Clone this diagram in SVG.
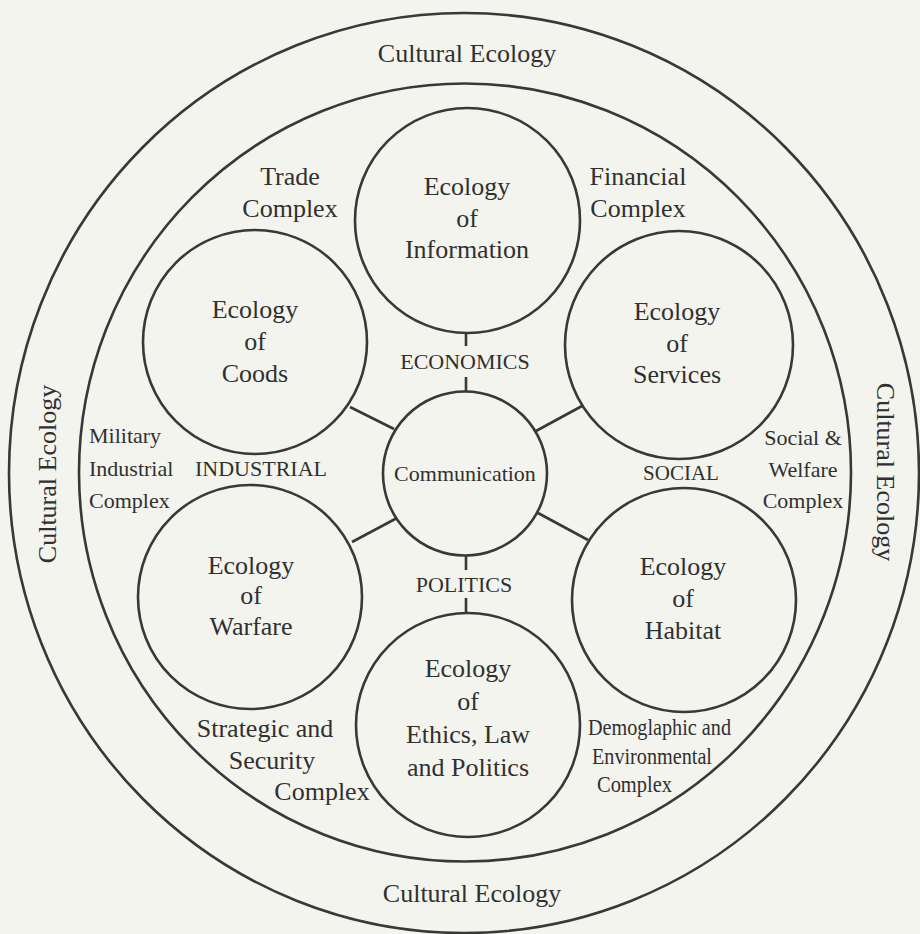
<svg xmlns="http://www.w3.org/2000/svg" width="920" height="934" viewBox="0 0 920 934">
<style>
.ring{fill:none;stroke:#383838;stroke-width:2.6}
.conn{fill:none;stroke:#383838;stroke-width:2.6}
text{font-family:"Liberation Serif","Times New Roman",serif;fill:#303030}
.big{font-size:26px;text-anchor:middle}
.mid{font-size:22px}
.c{text-anchor:middle}
.sm{font-size:20px}
</style>
<rect x="0" y="0" width="920" height="934" fill="#f4f4ef"/>
<g id="outer-ring">
<ellipse class="ring" cx="464" cy="473" rx="455" ry="460"/>
<text class="big" x="467" y="62">Cultural Ecology</text>
<text class="big" x="472" y="902">Cultural Ecology</text>
<text class="big" transform="translate(56,474) rotate(-90)">Cultural Ecology</text>
<text class="big" transform="translate(877,472) rotate(90)">Cultural Ecology</text>
</g>
<g id="second-ring">
<ellipse class="ring" cx="465" cy="472.5" rx="386" ry="389"/>
<text class="big" x="290" y="185">Trade</text>
<text class="big" x="290" y="217">Complex</text>
<text class="big" x="638" y="185">Financial</text>
<text class="big" x="638" y="217">Complex</text>
<text class="mid" x="89" y="443">Military</text>
<text class="mid" x="89" y="476">Industrial</text>
<text class="mid" x="89" y="508">Complex</text>
<text class="mid c" x="803" y="445">Social &amp;</text>
<text class="mid c" x="803" y="477">Welfare</text>
<text class="mid c" x="803" y="508">Complex</text>
<text class="big" x="265" y="737">Strategic and</text>
<text class="big" x="272" y="769">Security</text>
<text class="big" x="322" y="800">Complex</text>
<text class="sm" x="588" y="735" textLength="143" lengthAdjust="spacingAndGlyphs" transform="translate(0,-110) scale(1,1.15)">Demoglaphic and</text>
<text class="sm" x="592" y="764" textLength="120" lengthAdjust="spacingAndGlyphs" transform="translate(0,-114.6) scale(1,1.15)">Environmental</text>
<text class="sm" x="597" y="792" textLength="75" lengthAdjust="spacingAndGlyphs" transform="translate(0,-118.8) scale(1,1.15)">Complex</text>
<text class="mid c" x="261" y="476">INDUSTRIAL</text>
<text class="mid c" x="681" y="480" style="font-size:21px">SOCIAL</text>
</g>
<g id="connectors">
<line class="conn" x1="466" y1="333" x2="466" y2="346"/>
<line class="conn" x1="466" y1="377" x2="466" y2="392"/>
<line class="conn" x1="466" y1="555" x2="466" y2="570"/>
<line class="conn" x1="466" y1="598" x2="466" y2="614"/>
<line class="conn" x1="350" y1="407" x2="394" y2="429"/>
<line class="conn" x1="582" y1="406" x2="536" y2="431"/>
<line class="conn" x1="352" y1="542" x2="397" y2="518"/>
<line class="conn" x1="588" y1="540" x2="538" y2="513"/>
<text class="mid c" x="465" y="369">ECONOMICS</text>
<text class="mid c" x="464" y="592">POLITICS</text>
</g>
<g id="communication">
<circle class="ring" cx="465" cy="473.5" r="82"/>
<text class="mid c" x="465" y="481">Communication</text>
</g>
<g id="ecology-information">
<circle class="ring" cx="467.5" cy="220.5" r="112.5"/>
<text class="big" x="467" y="195">Ecology</text>
<text class="big" x="467" y="227">of</text>
<text class="big" x="467" y="258">Information</text>
</g>
<g id="ecology-goods">
<circle class="ring" cx="255" cy="342" r="112"/>
<text class="big" x="255" y="318">Ecology</text>
<text class="big" x="255" y="350">of</text>
<text class="big" x="255" y="382">Coods</text>
</g>
<g id="ecology-services">
<circle class="ring" cx="679" cy="345" r="114"/>
<text class="big" x="677" y="320">Ecology</text>
<text class="big" x="677" y="352">of</text>
<text class="big" x="677" y="383">Services</text>
</g>
<g id="ecology-warfare">
<circle class="ring" cx="250" cy="597" r="112"/>
<text class="big" x="251" y="574">Ecology</text>
<text class="big" x="251" y="604">of</text>
<text class="big" x="251" y="635">Warfare</text>
</g>
<g id="ecology-habitat">
<circle class="ring" cx="684" cy="600" r="112"/>
<text class="big" x="683" y="575">Ecology</text>
<text class="big" x="683" y="607">of</text>
<text class="big" x="683" y="639">Habitat</text>
</g>
<g id="ecology-ethics">
<circle class="ring" cx="468" cy="725" r="112"/>
<text class="big" x="468" y="677">Ecology</text>
<text class="big" x="468" y="710">of</text>
<text class="big" x="468" y="743">Ethics, Law</text>
<text class="big" x="468" y="776">and Politics</text>
</g>
</svg>
